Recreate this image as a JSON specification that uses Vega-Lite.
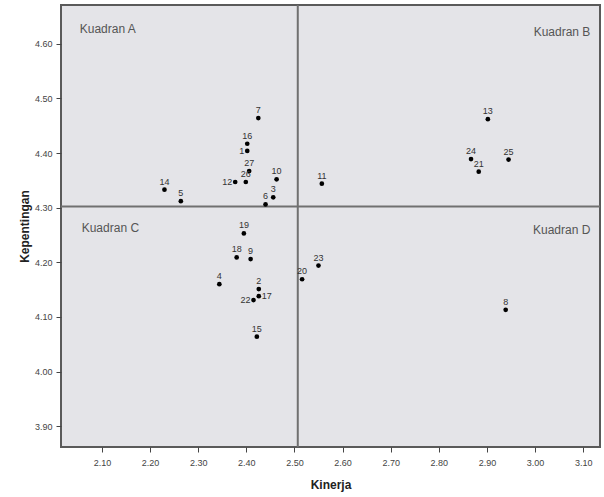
{
  "$schema": "https://vega.github.io/schema/vega-lite/v6.json",
  "autosize": "none",
  "padding": {"left": 61, "top": 5, "right": 4, "bottom": 50},
  "width": 539,
  "height": 442,
  "background": "white",
  "config": {
    "view": {"fill": "#e4e4e8", "stroke": "#5a5a5a", "strokeWidth": 2},
    "font": "Liberation Sans"
  },
  "datasets": {
    "points": [
      {"id": "1", "kinerja": 2.402, "kepentingan": 4.404},
      {"id": "2", "kinerja": 2.426, "kepentingan": 4.151},
      {"id": "3", "kinerja": 2.456, "kepentingan": 4.319},
      {"id": "4", "kinerja": 2.344, "kepentingan": 4.160},
      {"id": "5", "kinerja": 2.264, "kepentingan": 4.312},
      {"id": "6", "kinerja": 2.440, "kepentingan": 4.306},
      {"id": "7", "kinerja": 2.425, "kepentingan": 4.464},
      {"id": "8", "kinerja": 2.939, "kepentingan": 4.113},
      {"id": "9", "kinerja": 2.409, "kepentingan": 4.206},
      {"id": "10", "kinerja": 2.463, "kepentingan": 4.352},
      {"id": "11", "kinerja": 2.557, "kepentingan": 4.344},
      {"id": "12", "kinerja": 2.377, "kepentingan": 4.347},
      {"id": "13", "kinerja": 2.902, "kepentingan": 4.462},
      {"id": "14", "kinerja": 2.230, "kepentingan": 4.333},
      {"id": "15", "kinerja": 2.422, "kepentingan": 4.064},
      {"id": "16", "kinerja": 2.402, "kepentingan": 4.417},
      {"id": "17", "kinerja": 2.426, "kepentingan": 4.138},
      {"id": "18", "kinerja": 2.380, "kepentingan": 4.209},
      {"id": "19", "kinerja": 2.395, "kepentingan": 4.253},
      {"id": "20", "kinerja": 2.516, "kepentingan": 4.169},
      {"id": "21", "kinerja": 2.883, "kepentingan": 4.366},
      {"id": "22", "kinerja": 2.415, "kepentingan": 4.131},
      {"id": "23", "kinerja": 2.550, "kepentingan": 4.194},
      {"id": "24", "kinerja": 2.867, "kepentingan": 4.389},
      {"id": "25", "kinerja": 2.945, "kepentingan": 4.388},
      {"id": "26", "kinerja": 2.399, "kepentingan": 4.347},
      {"id": "27", "kinerja": 2.406, "kepentingan": 4.367}
    ],
    "quadrants": [
      {"label": "Kuadran A", "kinerja": 2.054, "kepentingan": 4.627, "side": "left"},
      {"label": "Kuadran B", "kinerja": 3.115, "kepentingan": 4.622, "side": "right"},
      {"label": "Kuadran C", "kinerja": 2.058, "kepentingan": 4.263, "side": "left"},
      {"label": "Kuadran D", "kinerja": 3.115, "kepentingan": 4.259, "side": "right"}
    ],
    "means": [{"kinerja": 2.507, "kepentingan": 4.302}]
  },
  "encoding": {
    "x": {
      "field": "kinerja", "type": "quantitative",
      "scale": {"domain": [2.015, 3.135], "nice": false, "zero": false},
      "axis": {
        "title": "Kinerja", "values": [2.1, 2.2, 2.3, 2.4, 2.5, 2.6, 2.7, 2.8, 2.9, 3.0, 3.1],
        "format": ".2f", "grid": false, "domain": false, "tickColor": "#444", "tickSize": 5,
        "labelFontSize": 9, "labelColor": "#444", "labelPadding": 6,
        "titleFontSize": 12, "titleFontWeight": "bold", "titleColor": "#222", "titlePadding": 12
      }
    },
    "y": {
      "field": "kepentingan", "type": "quantitative",
      "scale": {"domain": [3.862, 4.671], "nice": false, "zero": false},
      "axis": {
        "title": "Kepentingan", "values": [3.9, 4.0, 4.1, 4.2, 4.3, 4.4, 4.5, 4.6],
        "format": ".2f", "grid": false, "domain": false, "tickColor": "#444", "tickSize": 5,
        "labelFontSize": 9, "labelColor": "#444", "labelPadding": 4,
        "titleFontSize": 12, "titleFontWeight": "bold", "titleColor": "#222", "titlePadding": 3
      }
    }
  },
  "layer": [
    {
      "data": {"name": "means"},
      "mark": {"type": "rule", "color": "#707070", "strokeWidth": 2},
      "encoding": {"y": null, "x": {"field": "kinerja", "type": "quantitative"}}
    },
    {
      "data": {"name": "means"},
      "mark": {"type": "rule", "color": "#707070", "strokeWidth": 2},
      "encoding": {"x": null, "y": {"field": "kepentingan", "type": "quantitative"}}
    },
    {
      "data": {"name": "quadrants"},
      "transform": [{"filter": "datum.side == 'left'"}],
      "mark": {"type": "text", "align": "left", "baseline": "middle", "fontSize": 12, "color": "#555"},
      "encoding": {"text": {"field": "label"}}
    },
    {
      "data": {"name": "quadrants"},
      "transform": [{"filter": "datum.side == 'right'"}],
      "mark": {"type": "text", "align": "right", "baseline": "middle", "fontSize": 12, "color": "#555"},
      "encoding": {"text": {"field": "label"}}
    },
    {
      "data": {"name": "points"},
      "mark": {"type": "circle", "color": "#000", "opacity": 1, "size": 22},
      "encoding": {}
    },
    {
      "data": {"name": "points"},
      "transform": [{"filter": "indexof(['1','12','22','17'], datum.id) < 0"}],
      "mark": {"type": "text", "align": "center", "baseline": "bottom", "dy": -3, "fontSize": 9, "color": "#333"},
      "encoding": {"text": {"field": "id"}}
    },
    {
      "data": {"name": "points"},
      "transform": [{"filter": "indexof(['1','12','22'], datum.id) >= 0"}],
      "mark": {"type": "text", "align": "right", "baseline": "middle", "dx": -3, "fontSize": 9, "color": "#333"},
      "encoding": {"text": {"field": "id"}}
    },
    {
      "data": {"name": "points"},
      "transform": [{"filter": "datum.id == '17'"}],
      "mark": {"type": "text", "align": "left", "baseline": "middle", "dx": 3, "fontSize": 9, "color": "#333"},
      "encoding": {"text": {"field": "id"}}
    }
  ]
}
